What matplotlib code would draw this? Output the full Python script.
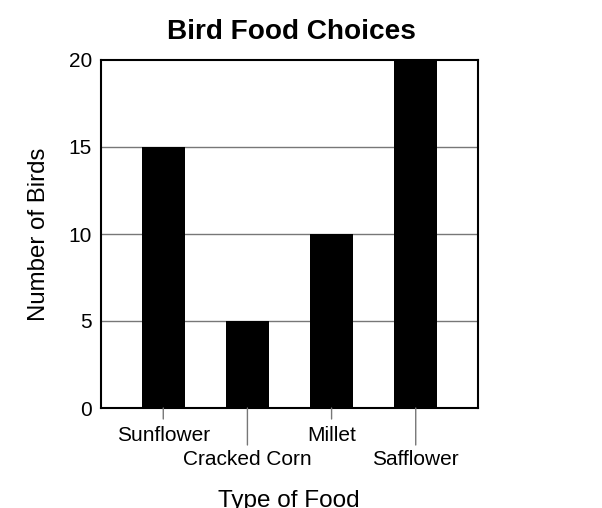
import matplotlib.pyplot as plt
import numpy as np

foods = ['Sunflower', 'Cracked Corn', 'Millet', 'Safflower']
birds = [15, 5, 10, 20]
y_ticks = [0, 5, 10, 15, 20]

plt.rcParams['font.family'] = ['Liberation Sans', 'DejaVu Sans']

W, H = 602, 508
fig = plt.figure(figsize=(W / 100, H / 100), dpi=100)
ax = fig.add_axes([101 / W, 1 - 408 / H, 377 / W, 348 / H])

x = np.arange(len(foods))
ax.bar(x, birds, width=0.51, color='black', zorder=3)

for y in y_ticks[1:-1]:
    ax.axhline(y, color='#777777', linewidth=1, zorder=1)

ax.set_xlim(-0.74, 3.74)
ax.set_ylim(0, 20)
ax.set_yticks(y_ticks)
ax.tick_params(axis='y', length=0, labelsize=15, pad=6.5)

# staggered category labels with short and long tick lines (pixel offsets)
ax.set_xticks(x)
ax.set_xticklabels([])
ax.tick_params(axis='x', length=0)
for i, name in enumerate(foods):
    long = i % 2 == 1
    drop = 37 if long else 11
    ax.annotate('', xy=(i, 0), xycoords='data', xytext=(0, -drop),
                textcoords='offset pixels', annotation_clip=False,
                arrowprops=dict(arrowstyle='-', color='#777777', lw=1, shrinkA=0, shrinkB=0))
    ax.annotate(name, xy=(i, 0), xycoords='data',
                xytext=(0, -(57 if long else 33)), textcoords='offset pixels',
                ha='center', va='baseline', fontsize=15, annotation_clip=False)

for s in ax.spines.values():
    s.set_linewidth(1.5)

fig.text(291 / W, 1 - 39 / H, 'Bird Food Choices', ha='center', va='baseline',
         fontsize=20.2, fontweight='bold')
fig.text(45 / W, 1 - 234.5 / H, 'Number of Birds', rotation=90, rotation_mode='anchor',
         ha='center', va='baseline', fontsize=17.3)
fig.text(288.5 / W, 1 - 507 / H, 'Type of Food', ha='center', va='baseline',
         fontsize=17.5)

fig.savefig('out.png', dpi=100)
